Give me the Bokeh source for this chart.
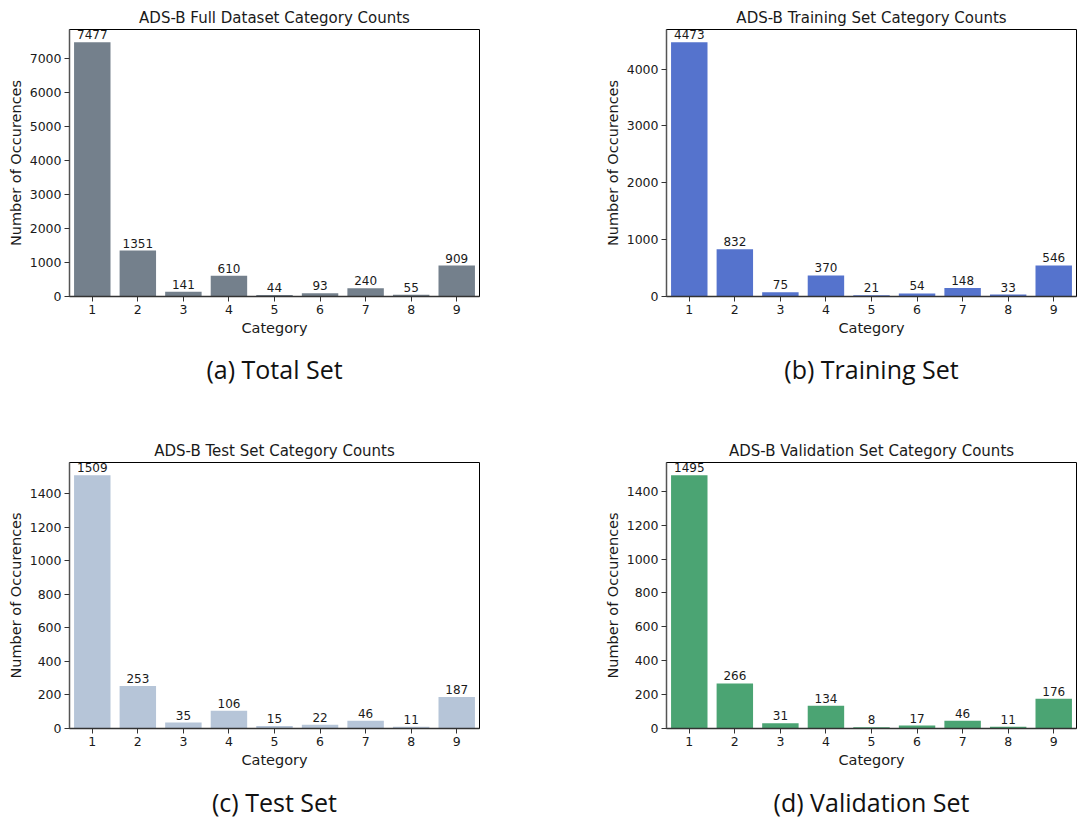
from bokeh.plotting import figure
from bokeh.layouts import gridplot
from bokeh.models import Range1d, SingleIntervalTicker, ColumnDataSource
from bokeh.core.properties import value
from bokeh.embed import file_html
from bokeh.resources import INLINE

categories = ["1", "2", "3", "4", "5", "6", "7", "8", "9"]
total_counts = [7477, 1351, 141, 610, 44, 93, 240, 55, 909]
train_counts = [4473, 832, 75, 370, 21, 54, 148, 33, 546]
test_counts = [1509, 253, 35, 106, 15, 22, 46, 11, 187]
val_counts = [1495, 266, 31, 134, 8, 17, 46, 11, 176]

titles = [
    "ADS-B Full Dataset Category Counts",
    "ADS-B Training Set Category Counts",
    "ADS-B Test Set Category Counts",
    "ADS-B Validation Set Category Counts",
]
captions = ["(a) Total Set", "(b) Training Set", "(c) Test Set", "(d) Validation Set"]
colors = ["#74808c", "#5573cd", "#b6c5d8", "#4ba473"]
tick_steps = [1000, 1000, 200, 200]

FONT = "DejaVu Sans"
CAP_FONT = "Open Sans"


def make_panel(counts, title, color, step, width, height, bl, br, bt, bb):
    src = ColumnDataSource(dict(cat=categories, cnt=counts, lab=[str(c) for c in counts]))
    p = figure(
        x_range=categories,
        y_range=Range1d(0, max(counts) * 1.05),
        width=width, height=height,
        output_backend="svg", toolbar_location=None,
        min_border_left=bl, min_border_right=br,
        min_border_top=bt, min_border_bottom=bb,
        title=title,
    )
    p.title.align = "center"
    p.title.text_font = FONT
    p.title.text_font_size = "15px"
    p.title.text_font_style = "normal"
    p.title.text_color = "#1a1a1a"
    p.title.standoff = 5
    p.title.offset = 0

    p.vbar(x="cat", top="cnt", width=0.8, source=src, fill_color=color, line_color=None)
    p.text(x="cat", y="cnt", text="lab", source=src, text_align="center",
           text_baseline="bottom", text_font=value(FONT), text_font_size="12px",
           text_color="#1a1a1a", y_offset=-3)

    p.xgrid.visible = False
    p.ygrid.visible = False
    p.outline_line_color = "black"
    p.outline_line_width = 1

    p.yaxis.ticker = SingleIntervalTicker(interval=step)
    p.yaxis.axis_label = "Number of Occurences"
    p.xaxis.axis_label = "Category"
    for ax in (p.xaxis[0], p.yaxis[0]):
        ax.axis_line_color = "#555555"
        ax.axis_line_width = 1.5
        ax.major_tick_line_color = "#333333"
        ax.major_tick_out = 5
        ax.major_tick_in = 0
        ax.minor_tick_out = 0
        ax.minor_tick_in = 0
        ax.major_label_text_font = FONT
        ax.major_label_text_font_size = "12.5px"
        ax.major_label_text_color = "#1a1a1a"
        ax.major_label_standoff = 3
        ax.axis_label_text_font = FONT
        ax.axis_label_text_font_size = "14.5px"
        ax.axis_label_text_font_style = "normal"
        ax.axis_label_text_color = "#1a1a1a"
        ax.axis_label_standoff = 3
    p.xaxis.axis_line_color = "#333333"
    return p


def make_caption(text, width, height, bl, br):
    c = figure(
        x_range=Range1d(0, 1), y_range=Range1d(0, 1),
        width=width, height=height,
        output_backend="svg", toolbar_location=None,
        min_border_left=bl, min_border_right=br,
        min_border_top=0, min_border_bottom=0,
    )
    c.axis.visible = False
    c.xgrid.visible = False
    c.ygrid.visible = False
    c.outline_line_color = None
    c.text(x=[0.5], y=[0.5], text=[text], text_align="center", text_baseline="middle",
           text_font=value(CAP_FONT), text_font_size="25px", text_color="#111111")
    return c


pa = make_panel(total_counts, titles[0], colors[0], tick_steps[0], 539, 351, 69, 60, 29, 55)
pb = make_panel(train_counts, titles[1], colors[1], tick_steps[1], 538, 351, 127, 1, 29, 55)
ca = make_caption(captions[0], 539, 35, 69, 60)
cb = make_caption(captions[1], 538, 35, 127, 1)
pc = make_panel(test_counts, titles[2], colors[2], tick_steps[2], 539, 398, 69, 60, 76, 56)
pd = make_panel(val_counts, titles[3], colors[3], tick_steps[3], 538, 398, 127, 1, 76, 56)
cc = make_caption(captions[2], 539, 35, 69, 60)
cd = make_caption(captions[3], 538, 35, 127, 1)

grid = gridplot([[pa, pb], [ca, cb], [pc, pd], [cc, cd]], toolbar_location=None)

open("out.html", "w").write(file_html(grid, INLINE))
